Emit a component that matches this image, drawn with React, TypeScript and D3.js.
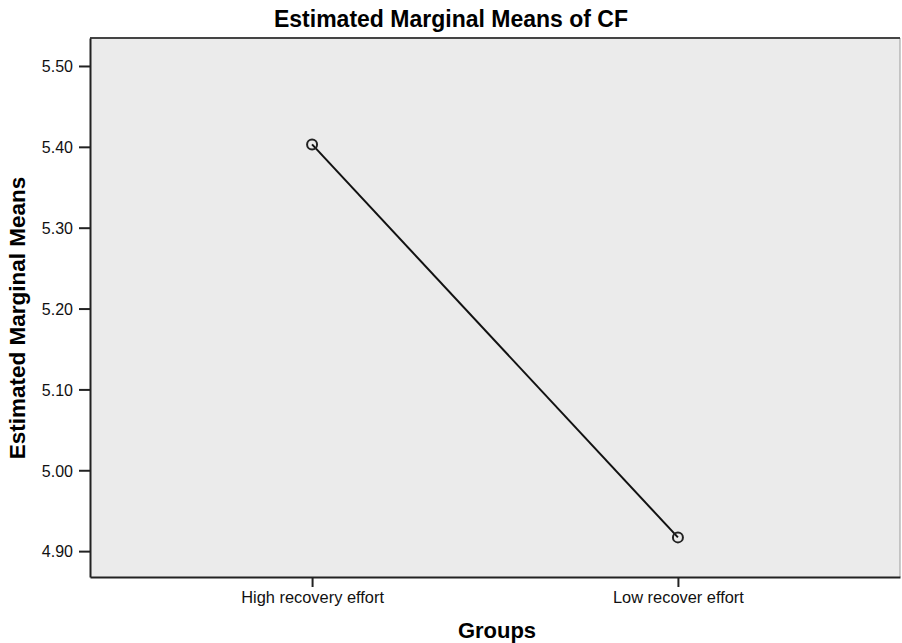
import { useEffect, useRef } from 'react'
import * as d3 from 'd3'

const groups = ['High recovery effort', 'Low recover effort']
const means = [5.403, 4.917]
const yTicks = [4.9, 5.0, 5.1, 5.2, 5.3, 5.4, 5.5]

const width = 902
const height = 643
const margin = { top: 38, right: 2, bottom: 66, left: 90 }
const font = '"Liberation Sans", Arial, sans-serif'

export default function App() {
  const svgRef = useRef<SVGSVGElement>(null)

  useEffect(() => {
    if (!svgRef.current) return
    const svg = d3.select(svgRef.current)
    svg.selectAll('*').remove()

    const chartWidth = width - margin.left - margin.right
    const chartHeight = height - margin.top - margin.bottom

    const x = d3.scalePoint<string>()
      .domain(groups)
      .range([0, chartWidth])
      .padding(0.607)

    const y = d3.scaleLinear()
      .domain([4.868, 5.5346])
      .range([chartHeight, 0])

    const g = svg.append('g')
      .attr('transform', `translate(${margin.left},${margin.top})`)

    // plot background
    g.append('rect')
      .attr('width', chartWidth)
      .attr('height', chartHeight)
      .attr('fill', '#ebebeb')

    // right edge, lighter
    g.append('line')
      .attr('x1', chartWidth).attr('x2', chartWidth)
      .attr('y1', 0).attr('y2', chartHeight)
      .attr('stroke', '#9a9a9a')
      .attr('stroke-width', 1)

    // top edge
    g.append('line')
      .attr('x1', 0).attr('x2', chartWidth)
      .attr('y1', 0).attr('y2', 0)
      .attr('stroke', '#444')
      .attr('stroke-width', 2)

    // y axis
    const yAxis = g.append('g')
      .call(d3.axisLeft(y).tickValues(yTicks).tickFormat(d3.format('.2f')).tickSize(11).tickSizeOuter(0))
    yAxis.select('.domain').attr('stroke', '#222').attr('stroke-width', 2)
    yAxis.selectAll('.tick line').attr('stroke', '#222').attr('stroke-width', 2)
    yAxis.selectAll('text')
      .attr('x', -17)
      .attr('dy', '0.36em')
      .style('font-family', font)
      .style('font-size', '16px')
      .style('fill', '#111')

    // x axis
    const xAxis = g.append('g')
      .attr('transform', `translate(0,${chartHeight})`)
      .call(d3.axisBottom(x).tickSize(10).tickSizeOuter(0))
    xAxis.select('.domain').attr('stroke', '#222').attr('stroke-width', 2)
    xAxis.selectAll('.tick line').attr('stroke', '#222').attr('stroke-width', 2)
    xAxis.selectAll('text')
      .attr('y', 26)
      .attr('dy', 0)
      .style('font-family', font)
      .style('font-size', '16.4px')
      .style('fill', '#111')

    const data = groups.map((grp, i) => ({ grp, value: means[i] }))

    const line = d3.line<{ grp: string; value: number }>()
      .x(d => x(d.grp) as number)
      .y(d => y(d.value))

    g.append('path')
      .datum(data)
      .attr('fill', 'none')
      .attr('stroke', '#111')
      .attr('stroke-width', 2)
      .attr('d', line)

    g.selectAll('.dot')
      .data(data)
      .enter().append('circle')
      .attr('class', 'dot')
      .attr('cx', d => x(d.grp) as number)
      .attr('cy', d => y(d.value))
      .attr('r', 5)
      .attr('fill', 'none')
      .attr('stroke', '#222')
      .attr('stroke-width', 2)

    // title
    svg.append('text')
      .attr('x', 451)
      .attr('y', 27)
      .attr('text-anchor', 'middle')
      .style('font-family', font)
      .style('font-size', '23px')
      .style('font-weight', 'bold')
      .text('Estimated Marginal Means of CF')

    // y label
    svg.append('text')
      .attr('transform', `translate(25,318) rotate(-90)`)
      .attr('text-anchor', 'middle')
      .style('font-family', font)
      .style('font-size', '22.5px')
      .style('font-weight', 'bold')
      .text('Estimated Marginal Means')

    // x label
    svg.append('text')
      .attr('x', 497)
      .attr('y', 638)
      .attr('text-anchor', 'middle')
      .style('font-family', font)
      .style('font-size', '22px')
      .style('font-weight', 'bold')
      .text('Groups')
  }, [])

  return (
    <svg
      ref={svgRef}
      width={width}
      height={height}
      style={{ position: 'absolute', left: 0, top: 0, background: '#fff' }}
    />
  )
}
